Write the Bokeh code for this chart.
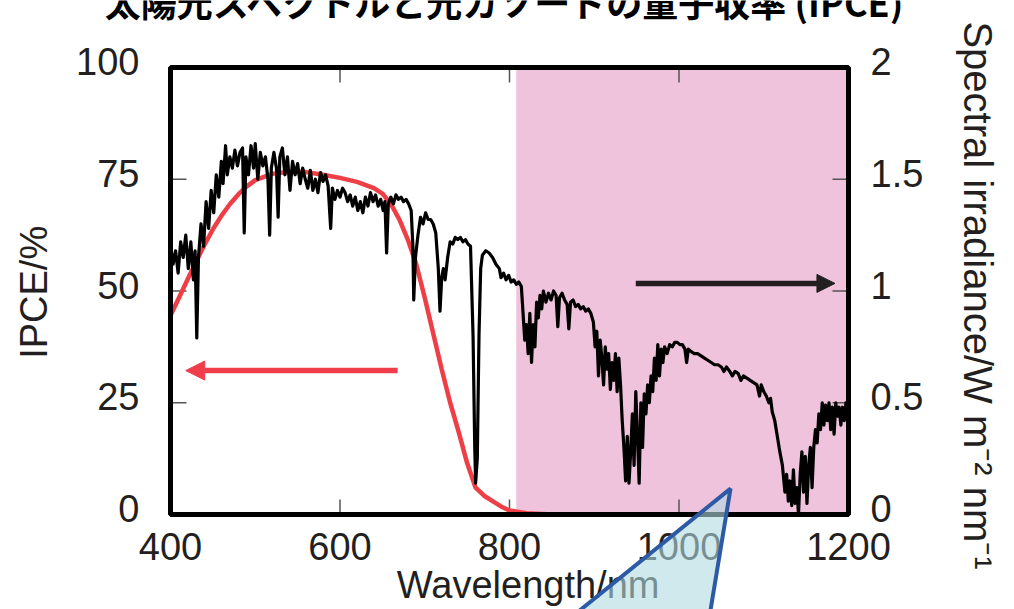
import math
from bokeh.plotting import figure
from bokeh.models import Range1d, Arrow, NormalHead
from bokeh.core.properties import value
from bokeh.embed import file_html
from bokeh.resources import INLINE

# ---------------- data ----------------
title_text = "太陽光スペクトルと光カソードの量子収率 (IPCE)"
x_label = "Wavelength/nm"
left_label = "IPCE/%"
right_label = "Spectral irradiance/W m⁻² nm⁻¹"

x_ticks = [400, 600, 800, 1000, 1200]
x_tick_labels = ["400", "600", "800", "1000", "1200"]
ipce_ticks = [0, 25, 50, 75, 100]
ipce_tick_labels = ["0", "25", "50", "75", "100"]
irr_ticks = [0, 0.5, 1, 1.5, 2]
irr_tick_labels = ["0", "0.5", "1", "1.5", "2"]

# IPCE curve (left axis, %)
ipce_wavelength = [400, 410, 420, 430, 440, 450, 460, 470, 480, 490, 500, 520, 540, 560, 580,
                   600, 620, 640, 650, 660, 670, 680, 690, 700, 710, 720, 730, 740, 750, 760,
                   770, 780, 790, 800, 820, 850]
ipce_percent = [44.5, 48.5, 52.5, 56.5, 60.3, 63.8, 66.8, 69.4, 71.6, 73.4, 74.8, 76.2, 76.7, 76.6, 76.0,
                75.3, 74.4, 73.0, 71.8, 69.5, 66.0, 61.5, 56.0, 48.5, 40.5, 32.5, 25.0, 18.5, 11.5, 6.0,
                4.2, 3.0, 1.8, 0.9, 0.3, 0.0]

# Solar spectrum (right axis, W m-2 nm-1)
sun_wavelength = [
    400, 403, 406, 409, 412, 415, 418, 421, 424, 427,
    429, 431, 433, 436, 439, 442, 445, 448, 451, 454,
    457, 460, 462, 465, 467, 470, 473, 476, 479, 482,
    485, 487, 489, 492, 495, 498, 500, 503, 506, 509,
    512, 515, 517, 519, 522, 525, 527, 529, 532, 535,
    538, 541, 544, 547, 550, 553, 556, 559, 562, 565,
    568, 571, 574, 577, 580, 583, 586, 589, 591, 594,
    597, 600, 603, 606, 609, 612, 615, 618, 621, 624,
    627, 630, 633, 636, 639, 642, 645, 648, 651, 653,
    655, 657, 660, 663, 666, 669, 672, 675, 678, 681,
    684, 686, 687, 689, 692, 695, 698, 701, 704, 707,
    710, 713, 716, 718, 720, 722, 724, 727, 730, 733,
    736, 739, 742, 745, 748, 751, 754, 757, 759, 760,
    762, 764, 766, 768, 772, 776, 780, 784, 788, 790,
    793, 796, 799, 802, 805, 808, 811, 814, 816, 818,
    820, 822, 824, 826, 828, 830, 832, 834, 836, 838,
    840, 843, 846, 849, 852, 855, 857, 859, 862, 865,
    868, 870, 872, 875, 878, 881, 884, 887, 890, 893,
    896, 899, 901, 903, 905, 907, 909, 911, 913, 915,
    917, 919, 921, 923, 925, 927, 929, 931, 933, 935,
    937, 939, 941, 943, 945, 947, 949, 951, 953, 955,
    957, 959, 961, 963, 965, 967, 969, 971, 973, 975,
    977, 979, 981, 983, 986, 989, 992, 995, 998, 1001,
    1004, 1007, 1009, 1011, 1014, 1018, 1022, 1026, 1030, 1034,
    1038, 1042, 1046, 1050, 1053, 1056, 1060, 1063, 1066, 1070,
    1073, 1076, 1080, 1084, 1088, 1092, 1095, 1097, 1100, 1103,
    1106, 1108, 1110, 1113, 1116, 1119, 1122, 1125, 1127, 1129,
    1131, 1133, 1135, 1137, 1139, 1141, 1143, 1145, 1147, 1149,
    1151, 1153, 1155, 1157, 1159, 1161, 1163, 1165, 1167, 1169,
    1171, 1173, 1175, 1177, 1179, 1181, 1183, 1185, 1187, 1189,
    1191, 1193, 1195, 1197, 1200]
sun_irradiance = [
    1.21, 1.12, 1.18, 1.08, 1.22, 1.15, 1.25, 1.10, 1.22, 1.05,
    1.18, 0.79, 1.15, 1.30, 1.20, 1.40, 1.28, 1.45, 1.35, 1.52,
    1.42, 1.58, 1.48, 1.65, 1.52, 1.60, 1.55, 1.63, 1.56, 1.62,
    1.64, 1.26, 1.60, 1.52, 1.65, 1.55, 1.66, 1.50, 1.62, 1.56,
    1.60, 1.50, 1.25, 1.55, 1.62, 1.55, 1.33, 1.60, 1.64, 1.52,
    1.60, 1.45, 1.58, 1.52, 1.57, 1.48, 1.55, 1.50, 1.46, 1.54,
    1.45, 1.50, 1.44, 1.53, 1.49, 1.52, 1.47, 1.28, 1.46, 1.41,
    1.45, 1.42, 1.46, 1.44, 1.40, 1.43, 1.38, 1.42, 1.36, 1.40,
    1.35, 1.42, 1.38, 1.44, 1.40, 1.43, 1.38, 1.41, 1.36, 1.40,
    1.17, 1.39, 1.42, 1.39, 1.43, 1.41, 1.42, 1.40, 1.41, 1.39,
    1.36, 1.20, 0.96, 1.15, 1.25, 1.33, 1.30, 1.35, 1.32, 1.32,
    1.30, 1.26, 1.10, 0.91, 1.06, 1.10, 1.05, 1.15, 1.22, 1.21,
    1.24, 1.23, 1.24, 1.22, 1.23, 1.21, 1.20, 0.80, 0.30, 0.14,
    0.25, 0.80, 1.10, 1.16, 1.18, 1.17, 1.15, 1.12, 1.10, 1.06,
    1.08, 1.05, 1.07, 1.04, 1.05, 1.03, 1.04, 1.02, 0.90, 0.78,
    0.85, 0.72, 0.90, 0.68, 0.85, 0.75, 0.95, 0.88, 0.98, 0.92,
    1.00, 0.95, 0.99, 0.96, 1.00, 0.98, 0.84, 0.97, 0.99, 0.96,
    0.94, 0.83, 0.95, 0.96, 0.93, 0.94, 0.92, 0.93, 0.91, 0.92,
    0.90, 0.86, 0.75, 0.82, 0.62, 0.78, 0.70, 0.58, 0.75, 0.65,
    0.72, 0.56, 0.68, 0.60, 0.72, 0.55, 0.70, 0.58, 0.42, 0.30,
    0.15, 0.35, 0.14, 0.28, 0.45, 0.22, 0.55, 0.35, 0.14, 0.50,
    0.30, 0.54, 0.45, 0.58, 0.50, 0.62, 0.55, 0.70, 0.60, 0.76,
    0.62, 0.74, 0.68, 0.75, 0.72, 0.76, 0.75, 0.77, 0.77, 0.76,
    0.76, 0.74, 0.68, 0.74, 0.73, 0.72, 0.72, 0.71, 0.70, 0.69,
    0.68, 0.67, 0.67, 0.66, 0.64, 0.66, 0.64, 0.62, 0.64, 0.63,
    0.60, 0.62, 0.61, 0.60, 0.59, 0.58, 0.53, 0.58, 0.55, 0.53,
    0.50, 0.52, 0.46, 0.42, 0.35, 0.28, 0.22, 0.10, 0.18, 0.06,
    0.15, 0.04, 0.20, 0.05, 0.12, 0.00, 0.18, 0.28, 0.10, 0.26,
    0.05, 0.22, 0.30, 0.12, 0.30, 0.38, 0.32, 0.45, 0.38, 0.50,
    0.40, 0.49, 0.42, 0.50, 0.38, 0.48, 0.36, 0.50, 0.44, 0.48,
    0.40, 0.48, 0.42, 0.50, 0.45]

# shaded near-infrared band (nm)
band_start = 808

# annotation arrows: (x_start, x_end, y)
ipce_arrow = [668, 418, 32.2]      # left axis units
sun_arrow = [949, 1184, 1.034]     # right axis units

# callout wedge (data units on x / IPCE axis)
wedge_x = [1060.8, 838.9, 1031.3]
wedge_y = [5.8, -28.2, -28.2]

# text anchor positions (data units, centre of text)
x_label_pos = (822, -15.7)
left_label_pos = (239.5, 49.7)
right_label_pos = (1353, 49.0)
title_pos = (795, 114.8)

# ---------------- layout ----------------
X_MIN, X_MAX = 400, 1200
Y_MIN, Y_MAX = 0, 100
IRR_MAX = 2
W, H = 1014, 609
FRAME_L, FRAME_R, FRAME_T, FRAME_B = 170, 848, 67, 514   # plot box in page pixels

sx = (FRAME_R - FRAME_L) / (X_MAX - X_MIN)
sy = (FRAME_B - FRAME_T) / (Y_MAX - Y_MIN)
x_range = Range1d(X_MIN - FRAME_L / sx, X_MAX + (W - FRAME_R) / sx)
y_lo = Y_MIN - (H - FRAME_B) / sy
y_hi = Y_MAX + FRAME_T / sy
y_range = Range1d(y_lo, y_hi)
k = IRR_MAX / (Y_MAX - Y_MIN)

FONT = "Liberation Sans"
TXT = "#231f20"
TICK_COLOR = "#555555"
FS = "38px"

p = figure(width=W, height=H, x_range=x_range, y_range=y_range,
           output_backend="svg", toolbar_location=None,
           x_axis_location=None, y_axis_location=None,
           min_border=0, min_border_left=0, min_border_right=0,
           min_border_top=0, min_border_bottom=0)
p.extra_y_ranges = {"irr": Range1d(y_lo * k, y_hi * k)}
p.grid.visible = False
p.outline_line_color = None
p.background_fill_color = "white"
p.border_fill_color = "white"

# pink band
p.quad(left=[band_start], right=[X_MAX], bottom=[Y_MIN], top=[Y_MAX],
       fill_color="#f0c3dc", line_color=None)

# ticks (inward)
p.ray(x=x_ticks, y=[Y_MIN] * len(x_ticks), length=15, length_units="screen",
      angle=math.pi / 2, line_color=TICK_COLOR, line_width=1.5)
p.ray(x=x_ticks, y=[Y_MAX] * len(x_ticks), length=15, length_units="screen",
      angle=-math.pi / 2, line_color=TICK_COLOR, line_width=1.5)
p.ray(x=[X_MIN] * len(ipce_ticks), y=ipce_ticks, length=16, length_units="screen",
      angle=0, line_color=TICK_COLOR, line_width=1.5)
p.ray(x=[X_MAX] * len(irr_ticks), y=irr_ticks, length=16, length_units="screen",
      angle=math.pi, line_color=TICK_COLOR, line_width=1.5, y_range_name="irr")

# curves
p.line(ipce_wavelength, ipce_percent, line_color="#ee3e46", line_width=4.5)
p.line(sun_wavelength, sun_irradiance, y_range_name="irr", line_color="black",
       line_width=3.2, line_join="round")

# plot box
p.quad(left=[X_MIN], right=[X_MAX], bottom=[Y_MIN], top=[Y_MAX],
       fill_color=None, line_color="black", line_width=5)

# tick labels
p.text(x=x_ticks, y=[Y_MIN] * len(x_ticks), text=x_tick_labels, y_offset=32,
       text_align="center", text_baseline="middle",
       text_font=value(FONT), text_font_size=FS, text_color=TXT)
p.text(x=[X_MIN] * len(ipce_ticks), y=ipce_ticks, text=ipce_tick_labels, x_offset=-31, y_offset=-6,
       text_align="right", text_baseline="middle",
       text_font=value(FONT), text_font_size=FS, text_color=TXT)
p.text(x=[X_MAX] * len(irr_ticks), y=irr_ticks, text=irr_tick_labels, x_offset=22, y_offset=-6,
       text_align="left", text_baseline="middle", y_range_name="irr",
       text_font=value(FONT), text_font_size=FS, text_color=TXT)

# axis labels and title
p.text(x=[x_label_pos[0]], y=[x_label_pos[1]], text=[x_label], text_align="center",
       text_baseline="middle", text_font=value(FONT), text_font_size=FS, text_color=TXT)
p.text(x=[left_label_pos[0]], y=[left_label_pos[1]], text=[left_label], angle=math.pi / 2,
       text_align="center", text_baseline="middle",
       text_font=value(FONT), text_font_size=FS, text_color=TXT)
p.text(x=[right_label_pos[0]], y=[right_label_pos[1]], text=[right_label], angle=-math.pi / 2,
       text_align="center", text_baseline="middle",
       text_font=value(FONT), text_font_size="40px", text_color=TXT)
p.text(x=[title_pos[0]], y=[title_pos[1]], text=[title_text], text_align="center",
       text_baseline="middle", text_font=value("Noto Sans CJK JP"),
       text_font_size="36px", text_font_style="bold", text_color="black")

# arrows
p.add_layout(Arrow(end=NormalHead(size=19, fill_color="#ef3e49", line_color="#ef3e49"),
                   x_start=ipce_arrow[0], y_start=ipce_arrow[2],
                   x_end=ipce_arrow[1], y_end=ipce_arrow[2],
                   line_color="#ef3e49", line_width=5.5))
p.add_layout(Arrow(end=NormalHead(size=18, fill_color="#231f20", line_color="#231f20"),
                   x_start=sun_arrow[0], y_start=sun_arrow[2],
                   x_end=sun_arrow[1], y_end=sun_arrow[2], y_range_name="irr",
                   line_color="#231f20", line_width=5.5))

# callout wedge (drawn last, over the axis texts)
p.patch(wedge_x, wedge_y, fill_color="#afdae1", fill_alpha=0.6,
        line_color="#2d5aa6", line_width=4)

open("out.html", "w").write(file_html(p, INLINE))
